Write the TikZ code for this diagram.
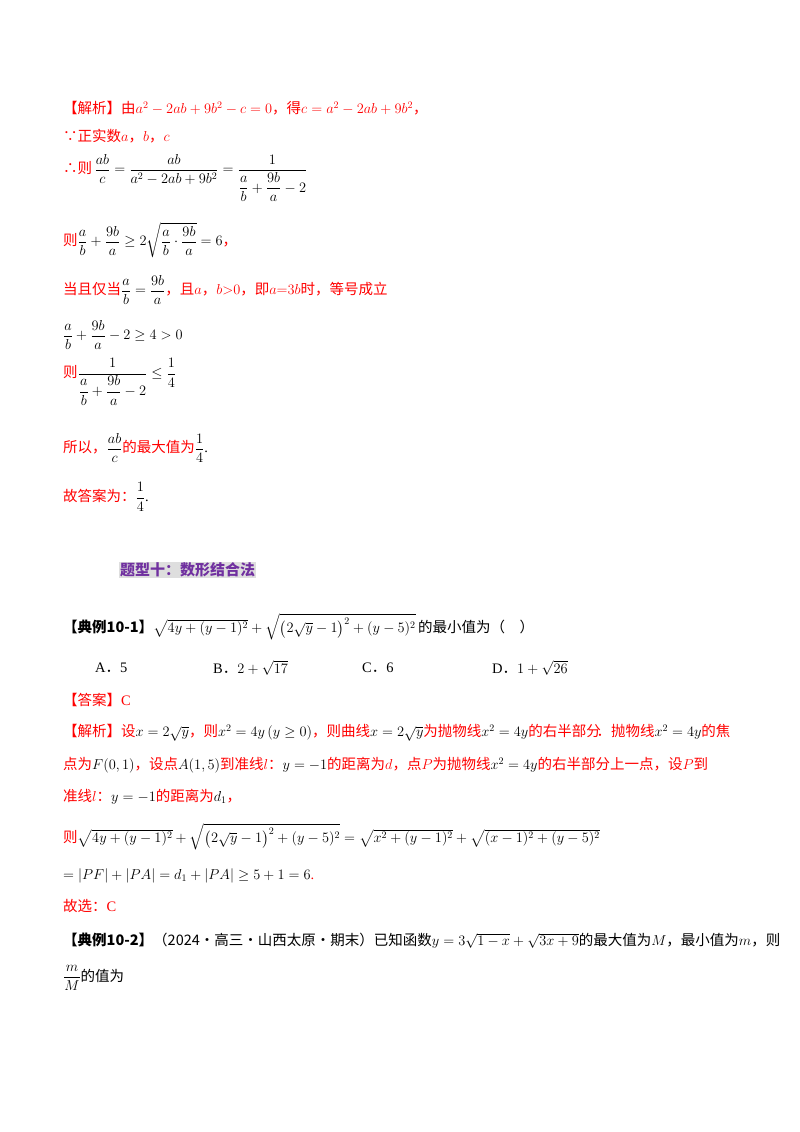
\documentclass[tikz,border=0pt]{standalone}
\usepackage{amsmath,amssymb}
\usepackage{fontspec}
\setmainfont{Liberation Serif}
\newfontfamily\cjk{Noto Sans CJK SC}
\definecolor{rd}{RGB}{255,0,0}
\definecolor{hdpurple}{RGB}{112,48,160}
\definecolor{hdgrey}{RGB}{222,222,222}
\newcommand{\cz}[1]{{\cjk #1}}
\begin{document}
\begin{tikzpicture}[x=1pt,y=1pt,
  ln/.style={anchor=west,inner sep=0pt,font=\fontsize{14.5}{17}\selectfont},
  rl/.style={ln,text=rd},
  bl/.style={ln,text=black}]
\useasboundingbox (0,0) rectangle (800,-1132);
\fill[white] (0,0) rectangle (800,-1132);
\node[rl] (l1) at (63,-108) {\cz{【解析】由}$a^2-2ab+9b^2-c=0$\cz{，得}$c=a^2-2ab+9b^2$\cz{，}};
\node[rl] (l2) at (63,-136) {\cz{∵正实数}$a$\cz{，}$b$\cz{，}$c$};
\node[rl] (l3) at (63,-178) {\cz{∴则}\,\color{black}$\dfrac{ab}{c}=\dfrac{ab}{a^2-2ab+9b^2}=\dfrac{1}{\dfrac{a}{b}+\dfrac{9b}{a}-2}$};
\node[rl] (l4) at (63,-240) {\cz{则}\color{black}$\dfrac{a}{b}+\dfrac{9b}{a}\ge 2\sqrt{\dfrac{a}{b}\cdot\dfrac{9b}{a}}=6$\color{rd}\cz{，}};
\node[rl] (l5) at (63,-290) {\cz{当且仅当}\color{black}$\dfrac{a}{b}=\dfrac{9b}{a}$\color{rd}\cz{，且}$a$\cz{，}$b{>}0$\cz{，即}$a{=}3b$\cz{时，等号成立}};
\node[bl] (l6) at (63,-335) {$\dfrac{a}{b}+\dfrac{9b}{a}-2\ge 4>0$};
\node[rl] (l7) at (63,-382) {\cz{则}\color{black}$\dfrac{1}{\dfrac{a}{b}+\dfrac{9b}{a}-2}\le\dfrac14$};
\node[rl] (l8) at (63,-448) {\cz{所以，}\color{black}$\dfrac{ab}{c}$\color{rd}\cz{的最大值为}\color{black}$\dfrac14$.};
\node[rl] (l9) at (63,-497) {\cz{故答案为：}\color{black}$\dfrac14$.};
\node[anchor=west,inner sep=1pt,fill=hdgrey,text=hdpurple,font=\fontsize{15}{17}\selectfont\cjk\bfseries] (hd) at (119,-570) {题型十：数形结合法};
\node[bl] (e1) at (63,-627) {\cz{\bfseries【典例10-1】}$\sqrt{4y+(y-1)^2}+\sqrt{\left(2\sqrt{y}-1\right)^2+(y-5)^2}$\,\cz{的最小值为（\quad）}};
\node[bl] (oa) at (95,-668) {A\cz{．}5};
\node[bl] (ob) at (213,-668) {B\cz{．}$2+\sqrt{17}$};
\node[bl] (oc) at (362,-668) {C\cz{．}6};
\node[bl] (od) at (492,-668) {D\cz{．}$1+\sqrt{26}$};
\node[rl] (ans) at (63,-700) {\cz{【答案】}C};
\node[rl] (s1) at (63,-733) {\cz{【解析】设}\color{black}$x=2\sqrt{y}$\color{rd}\cz{，则}\color{black}$x^2=4y\,(y\ge0)$\color{rd}\cz{，则曲线}\color{black}$x=2\sqrt y$\color{rd}\cz{为抛物线}\color{black}$x^2=4y$\color{rd}\cz{的右半部分\kern-0.3em．抛物线}\color{black}$x^2=4y$\color{rd}\cz{的焦}};
\node[rl] (s2) at (63,-765) {\cz{点为}\color{black}$F(0,1)$\color{rd}\cz{，设点}\color{black}$A(1,5)$\color{rd}\cz{到准线}$l$\cz{：}\color{black}$y=-1$\color{rd}\cz{的距离为}$d$\cz{，点}$P$\cz{为抛物线}\color{black}$x^2=4y$\color{rd}\cz{的右半部分上一点，设}$P$\cz{到}};
\node[rl] (s3) at (63,-797) {\cz{准线}$l$\cz{：}\color{black}$y=-1$\color{rd}\cz{的距离为}\color{black}$d_1$\color{rd}\cz{，}};
\node[rl] (s4) at (63,-837) {\cz{则}\color{black}$\sqrt{4y+(y-1)^2}+\sqrt{\left(2\sqrt y-1\right)^2+(y-5)^2}=\sqrt{x^2+(y-1)^2}+\sqrt{(x-1)^2+(y-5)^2}$};
\node[bl] (s5) at (63,-876) {$=|PF|+|PA|=d_1+|PA|\ge5+1=6$\color{rd}.};
\node[rl] (s6) at (63,-906) {\cz{故选：}C};
\node[bl] (e2) at (63,-941) {\cz{\bfseries【典例10-2】}\cz{（2024·高三·山西太原·期末）已知函数}$y=3\sqrt{1-x}+\sqrt{3x+9}$\cz{的最大值为}$M$\cz{，最小值为}$m$\cz{，则}};
\node[bl] (e3) at (63,-978) {$\dfrac{m}{M}$\cz{的值为}};
\end{tikzpicture}
\end{document}
